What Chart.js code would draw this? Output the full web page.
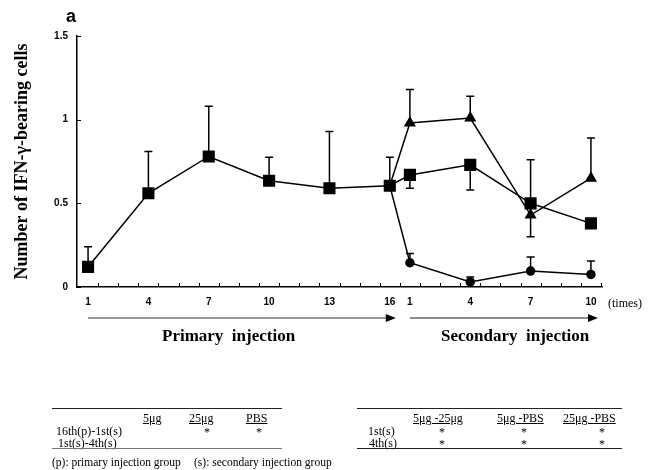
<!DOCTYPE html>
<html>
<head>
<meta charset="utf-8">
<script src="https://cdn.jsdelivr.net/npm/chart.js@4.4.1/dist/chart.umd.min.js"></script>
<style>
body { margin: 0; background: #fff; }
#wrap { position: relative; width: 651px; height: 470px; overflow: hidden; }
canvas { position: absolute; left: 0; top: 0; }
.t { position: absolute; white-space: nowrap; font-family: 'Liberation Serif', 'Times New Roman', serif; color: #000; }
.s { font-size: 12px; line-height: 12px; }
.f { font-size: 11.5px; line-height: 12px; }
.u { text-decoration: underline; }
.rule { position: absolute; height: 0; border-top: 1.5px solid #222; }
.thin { border-top: 1px solid #777; }
</style>
</head>
<body>
<div id="wrap">
  <canvas id="chart" width="651" height="470"></canvas>

  <div class="t" style="left:66px;top:6px;font:bold 18px 'Liberation Sans',Arial,sans-serif;">a</div>
  <div class="t" style="left:608px;top:296px;font-size:12px;">(times)</div>
  <div class="t" style="left:162px;top:326px;font-weight:bold;font-size:17px;">Primary&nbsp; injection</div>
  <div class="t" style="left:441px;top:326px;font-weight:bold;font-size:17px;">Secondary&nbsp; injection</div>

  <!-- left table -->
  <div class="rule" style="left:52px;top:408px;width:230px;"></div>
  <div class="t s u" style="left:143px;top:412px;">5μg</div>
  <div class="t s u" style="left:189px;top:412px;">25μg</div>
  <div class="t s u" style="left:246px;top:412px;">PBS</div>
  <div class="t s" style="left:56px;top:425px;">16th(p)-1st(s)</div>
  <div class="t s" style="left:204px;top:426px;">*</div>
  <div class="t s" style="left:256px;top:426px;">*</div>
  <div class="t s" style="left:58px;top:437px;">1st(s)-4th(s)</div>
  <div class="rule thin" style="left:52px;top:448px;width:230px;"></div>
  <div class="t f" style="left:52px;top:456px;">(p): primary injection group</div>
  <div class="t f" style="left:194px;top:456px;">(s): secondary injection group</div>

  <!-- right table -->
  <div class="rule" style="left:357px;top:408px;width:265px;"></div>
  <div class="t s u" style="left:413px;top:412px;">5μg -25μg</div>
  <div class="t s u" style="left:497px;top:412px;">5μg -PBS</div>
  <div class="t s u" style="left:563px;top:412px;">25μg -PBS</div>
  <div class="t s" style="left:368px;top:425px;">1st(s)</div>
  <div class="t s" style="left:369px;top:437px;">4th(s)</div>
  <div class="t s" style="left:439px;top:426px;">*</div>
  <div class="t s" style="left:521px;top:426px;">*</div>
  <div class="t s" style="left:599px;top:426px;">*</div>
  <div class="t s" style="left:439px;top:438px;">*</div>
  <div class="t s" style="left:521px;top:438px;">*</div>
  <div class="t s" style="left:599px;top:438px;">*</div>
  <div class="rule" style="left:357px;top:448px;width:265px;"></div>
</div>

<script>
// injection counts shown on the x axis
const primaryTimes = [1, 4, 7, 10, 13, 16];
const secondaryTimes = [1, 4, 7, 10];

// primary injection (one group)
const primaryMean = [0.12, 0.56, 0.78, 0.635, 0.59, 0.605];
const primarySD = [0.12, 0.25, 0.30, 0.14, 0.34, 0.17];

// secondary injection groups
const dose5Mean = [0.67, 0.73, 0.50, 0.38];
const dose5SD = [0.08, 0.15, 0.20, 0];
const dose25Mean = [0.98, 1.01, 0.43, 0.65];
const dose25SD = [0.20, 0.13, 0.33, 0.24];
const pbsMean = [0.145, 0.03, 0.095, 0.075];
const pbsSD = [0.055, 0.03, 0.085, 0.08];

const yTicks = [0, 0.5, 1, 1.5];

// position on the continuous axis: primary 1..16 -> 0..15, secondary 1..10 -> 16..25
function posP(t) { return t - 1; }
function posS(t) { return 15 + t; }

const tickPos = primaryTimes.map(posP).concat(secondaryTimes.map(posS));
const tickText = primaryTimes.concat(secondaryTimes).map(String);

const lastP = primaryTimes.length - 1;
const startPoint = { x: posP(primaryTimes[lastP]), y: primaryMean[lastP] };

const squareData = primaryTimes.map((t, i) => ({ x: posP(t), y: primaryMean[i] }))
  .concat(secondaryTimes.map((t, i) => ({ x: posS(t), y: dose5Mean[i] })));
const squareErr = primarySD.map(v => ({ v: v, dir: 1 }))
  .concat(dose5SD.map(v => ({ v: v, dir: -1 })));

const triData = [startPoint].concat(secondaryTimes.map((t, i) => ({ x: posS(t), y: dose25Mean[i] })));
const triErr = [{ v: 0, dir: 1 }].concat(dose25SD.map(v => ({ v: v, dir: 1 })));

const circData = [startPoint].concat(secondaryTimes.map((t, i) => ({ x: posS(t), y: pbsMean[i] })));
const circErr = [{ v: 0, dir: 1 }].concat(pbsSD.map(v => ({ v: v, dir: 1 })));

const decor = {
  id: 'decor',
  beforeDatasetsDraw(chart) {
    const { ctx, scales: { x, y } } = chart;
    ctx.save();
    ctx.strokeStyle = '#000';
    ctx.lineWidth = 1.5;
    chart.data.datasets.forEach(ds => {
      ds.data.forEach((p, i) => {
        const e = ds.err[i];
        if (!e || !e.v) return;
        const px = x.getPixelForValue(p.x);
        const y0 = y.getPixelForValue(p.y);
        const y1 = y.getPixelForValue(p.y + e.dir * e.v);
        ctx.beginPath();
        ctx.moveTo(px, y0); ctx.lineTo(px, y1);
        ctx.moveTo(px - 4, y1); ctx.lineTo(px + 4, y1);
        ctx.stroke();
      });
    });
    ctx.restore();
  },
  afterDraw(chart) {
    const { ctx, scales: { x, y } } = chart;
    ctx.save();
    ctx.strokeStyle = '#000';
    ctx.lineWidth = 1;
    // inward tick marks
    for (let v = 0.5; v <= 25.5; v += 1) {
      const px = Math.round(x.getPixelForValue(v)) + 0.5;
      ctx.beginPath(); ctx.moveTo(px, y.bottom); ctx.lineTo(px, y.bottom - 4); ctx.stroke();
    }
    yTicks.forEach(v => {
      const py = Math.round(y.getPixelForValue(v)) + 0.5;
      ctx.beginPath(); ctx.moveTo(x.left, py); ctx.lineTo(x.left + 4, py); ctx.stroke();
    });
    // injection arrows
    const ay = y.bottom + 31;
    function arrow(from, to, color, w) {
      const x0 = x.getPixelForValue(from), x1 = x.getPixelForValue(to);
      ctx.strokeStyle = color; ctx.fillStyle = '#000'; ctx.lineWidth = w;
      ctx.beginPath(); ctx.moveTo(x0, ay); ctx.lineTo(x1 - 8, ay); ctx.stroke();
      ctx.beginPath(); ctx.moveTo(x1, ay); ctx.lineTo(x1 - 10, ay - 4); ctx.lineTo(x1 - 10, ay + 4); ctx.closePath(); ctx.fill();
    }
    arrow(posP(1), posP(16) + 0.3, '#333', 1);
    arrow(posS(1), posS(10) + 0.35, '#666', 1.5);
    ctx.restore();
  }
};

const ctx = document.getElementById('chart');

new Chart(ctx, {
  type: 'line',
  data: {
    datasets: [
      {
        label: '5μg',
        data: squareData,
        err: squareErr,
        borderColor: '#000', backgroundColor: '#000',
        borderWidth: 1.5, pointStyle: 'rect', pointRadius: 7.5
      },
      {
        label: '25μg',
        data: triData,
        err: triErr,
        borderColor: '#000', backgroundColor: '#000',
        borderWidth: 1.5, pointStyle: 'triangle',
        pointRadius: triData.map((p, i) => i === 0 ? 0 : 5.5)
      },
      {
        label: 'PBS',
        data: circData,
        err: circErr,
        borderColor: '#000', backgroundColor: '#000',
        borderWidth: 1.5, pointStyle: 'circle',
        pointRadius: circData.map((p, i) => i === 0 ? 0 : 4)
      }
    ]
  },
  options: {
    responsive: false,
    animation: false,
    layout: { padding: { left: 0, top: 36, right: 49, bottom: 153 } },
    plugins: { legend: { display: false }, tooltip: { enabled: false } },
    scales: {
      x: {
        type: 'linear',
        min: -0.55,
        max: 25.55,
        afterFit(scale) { scale.height = 30; },
        afterBuildTicks(scale) { scale.ticks = tickPos.map(v => ({ value: v })); },
        ticks: {
          autoSkip: false,
          maxRotation: 0,
          padding: 9,
          color: '#000',
          font: { family: "'Liberation Sans', Arial, sans-serif", size: 10, weight: 'bold' },
          callback: (v) => tickText[tickPos.indexOf(v)]
        },
        grid: { display: false, drawTicks: false },
        border: { display: true, color: '#000', width: 1.5 }
      },
      y: {
        min: 0,
        max: 1.5,
        afterFit(scale) { scale.width = 77; },
        afterBuildTicks(scale) { scale.ticks = yTicks.map(v => ({ value: v })); },
        ticks: {
          padding: 9,
          color: '#000',
          font: { family: "'Liberation Sans', Arial, sans-serif", size: 10, weight: 'bold' },
          callback: (v) => String(v)
        },
        grid: { display: false, drawTicks: false },
        border: { display: true, color: '#000', width: 1.5 },
        title: {
          display: true,
          text: 'Number of IFN-γ-bearing cells',
          color: '#000',
          padding: { top: 12, bottom: 0 },
          font: { family: "'Liberation Serif', 'Times New Roman', serif", size: 18, weight: 'bold' }
        }
      }
    }
  },
  plugins: [decor]
});
</script>
</body>
</html>
